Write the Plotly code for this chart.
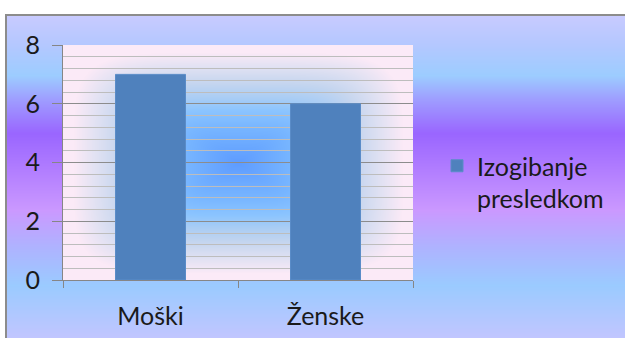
import base64
import struct
import zlib

import numpy as np
import plotly.graph_objects as go

# ---- data ---------------------------------------------------------------
categories = ["Moški", "Ženske"]
values = [7, 6]
series_name = "Izogibanje<br>presledkom"

# ---- geometry (pixels) ----------------------------------------------------
W, H = 625, 338
ML, MR, MT, MB = 63, 212, 45, 58
PW, PH = W - ML - MR, H - MT - MB


def png_uri(rgb):
    """Encode an HxWx3 uint8 array as a PNG data URI."""
    h, w, _ = rgb.shape
    raw = b"".join(b"\x00" + rgb[r].tobytes() for r in range(h))

    def chunk(tag, data):
        out = struct.pack(">I", len(data)) + tag + data
        return out + struct.pack(">I", zlib.crc32(tag + data) & 0xFFFFFFFF)

    png = (b"\x89PNG\r\n\x1a\n"
           + chunk(b"IHDR", struct.pack(">IIBBBBB", w, h, 8, 2, 0, 0, 0))
           + chunk(b"IDAT", zlib.compress(raw, 9))
           + chunk(b"IEND", b""))
    return "data:image/png;base64," + base64.b64encode(png).decode()


def hex_rgb(c):
    c = c.lstrip("#")
    return [int(c[i:i + 2], 16) for i in (0, 2, 4)]


def ramp(t, stops):
    pos = np.array([s[0] for s in stops], dtype=float)
    cols = np.array([hex_rgb(s[1]) for s in stops], dtype=float)
    return np.stack([np.interp(t, pos, cols[:, k]) for k in range(3)], axis=-1)


# chart-area background: vertical multi-stop gradient
BX0, BY0 = 7, 16
bw, bh = W - BX0, H - BY0
ys = np.arange(bh) + BY0
bg_stops = [(16, "#c8cbff"), (45, "#b4c8ff"), (75, "#9dcdff"), (100, "#9f9cff"),
            (133, "#9a66ff"), (170, "#b27eff"), (210, "#cb99ff"), (245, "#b0b2ff"),
            (285, "#9bcbff"), (338, "#c2c6ff")]
row = ramp(ys, bg_stops)
bg = np.repeat(row[:, None, :], bw, axis=1).clip(0, 255).astype(np.uint8)

# plot-area fill: rounded-rectangle gradient from the centre
yy, xx = np.mgrid[0:PH, 0:PW]
dx = np.abs(xx - PW / 2) / (PW / 2)
dy = np.abs(yy - PH / 2) / (PH / 2)
t = (dx ** 5 + dy ** 5) ** (1 / 5)
pa_stops = [(0.0, "#5e9cff"), (0.30, "#78b6ff"), (0.45, "#8cc5ff"), (0.55, "#a9cdf5"),
            (0.68, "#c6d6ef"), (0.82, "#e2e2f3"), (0.94, "#fbeaf7"), (1.2, "#fcebf7")]
pa = ramp(t, pa_stops).clip(0, 255).astype(np.uint8)

fig = go.Figure(go.Bar(
    x=categories,
    y=values,
    name=series_name,
    marker=dict(color="#4f81bd", line=dict(color="#5a8cc8", width=1)),
    width=0.4,
    showlegend=True,
))

fig.add_layout_image(dict(
    source=png_uri(bg), xref="paper", yref="paper",
    x=(BX0 - ML) / PW, y=(H - MB - BY0) / PH,
    sizex=bw / PW, sizey=bh / PH, sizing="stretch",
    xanchor="left", yanchor="top", layer="below"))
fig.add_layout_image(dict(
    source=png_uri(pa), xref="paper", yref="paper",
    x=0, y=1, sizex=1, sizey=1, sizing="stretch",
    xanchor="left", yanchor="top", layer="below"))

# outer chart border (left and top edges visible)
fig.add_shape(type="rect", xref="paper", yref="paper",
              x0=(6 - ML) / PW, x1=(W + 10 - ML) / PW,
              y0=(H - MB - (H + 10)) / PH, y1=(H - MB - 15) / PH,
              line=dict(color="#8c8c8c", width=2), layer="above")

font = "Lato, 'Open Sans', sans-serif"
fig.update_layout(
    width=W, height=H,
    margin=dict(l=ML, r=MR, t=MT, b=MB, autoexpand=False),
    paper_bgcolor="white",
    plot_bgcolor="rgba(0,0,0,0)",
    font=dict(family=font, size=25, color="#1a1a1a"),
    showlegend=True,
    legend=dict(x=(437 - ML) / PW, xanchor="left", y=(H - MB - 143) / PH,
                yanchor="top", valign="top", bgcolor="rgba(0,0,0,0)",
                font=dict(size=25, color="#1a1a1a"), itemwidth=30),
    xaxis=dict(
        automargin=False,
        showline=True, linecolor="#868686", linewidth=1,
        ticks="outside", tickson="boundaries", ticklen=7, tickcolor="#868686",
        showgrid=False, ticklabelstandoff=14,
    ),
    yaxis=dict(
        automargin=False,
        range=[0, 8], dtick=2, tick0=0,
        showline=True, linecolor="#868686", linewidth=1,
        ticks="outside", ticklen=10, tickcolor="#868686",
        showgrid=True, gridcolor="#8c8c8c", gridwidth=1,
        zeroline=False, ticklabelstandoff=7,
        minor=dict(dtick=0.4, tick0=0, showgrid=True, gridcolor="#bdbdbd",
                   gridwidth=1, ticks=""),
    ),
)

fig.write_html("out.html")
